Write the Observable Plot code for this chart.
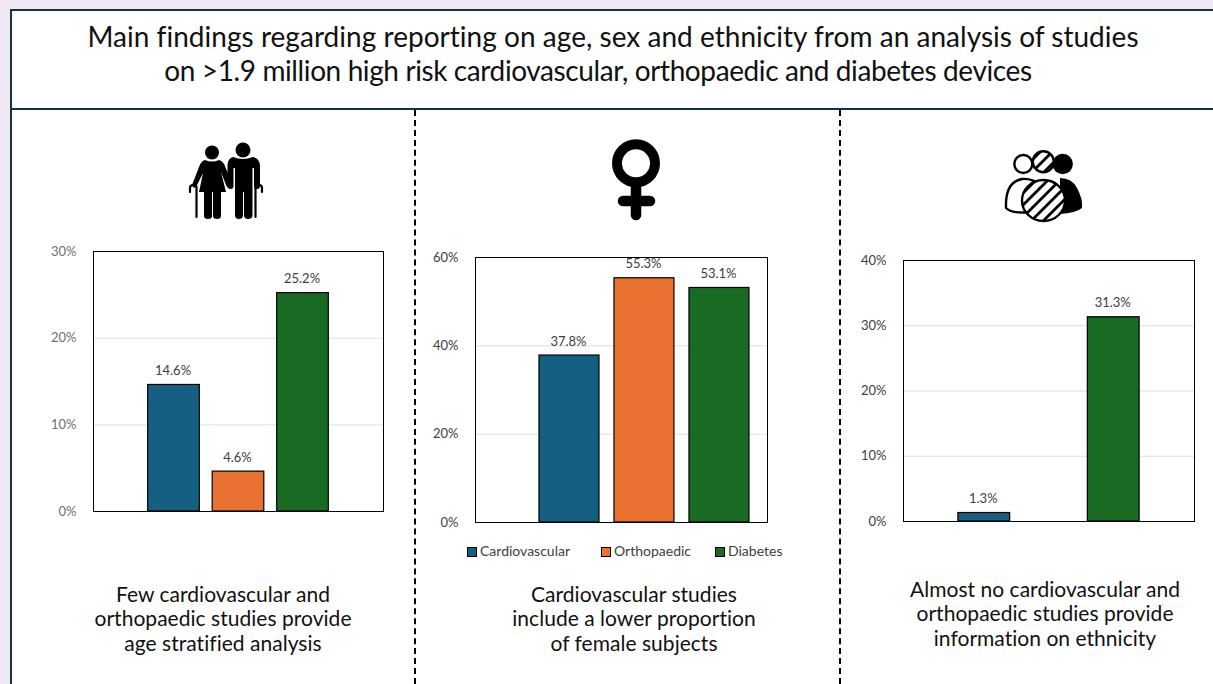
<!DOCTYPE html>
<html lang="en">
<head>
<meta charset="utf-8">
<title>Reporting on age, sex and ethnicity</title>
<script src="https://cdn.jsdelivr.net/npm/d3@7"></script>
<script src="https://cdn.jsdelivr.net/npm/@observablehq/plot@0.6"></script>
<style>
  html, body { margin: 0; padding: 0; background: #efe7f3; }
  body { position: relative; width: 1213px; height: 684px; overflow: hidden; font-family: Lato, "Open Sans", sans-serif; color: #111; }
  .sheet { position: absolute; left: 9.5px; top: 9px; width: 1210px; height: 690px; background: #fff; border-left: 2px solid #0e3446; border-top: 2px solid #0e3446; box-sizing: border-box; }
  .rule { position: absolute; left: 10px; top: 108px; width: 1203px; height: 2px; background: #0e3446; }
  .title { position: absolute; width: 1200px; text-align: center; font-size: 28px; line-height: 33.5px; white-space: nowrap; }
  .divider { position: absolute; top: 110px; height: 574px; width: 0; border-left: 2px dashed #000; }
  .caption { position: absolute; width: 400px; text-align: center; font-size: 21px; line-height: 24.3px; letter-spacing: 0.03px; white-space: nowrap; }
  .chart { position: absolute; }
  .chart svg { display: block; background: transparent; overflow: visible; }
  .icon { position: absolute; left: 0; top: 0; }
  .legend { position: absolute; top: 542px; left: 0; font-size: 14px; color: #404040; }
  .legend span { position: absolute; top: 0; white-space: nowrap; }
  .legend i { position: absolute; top: 5px; width: 8px; height: 8px; border: 1px solid #000; }
</style>
</head>
<body>
<div class="sheet"></div>
<div class="rule"></div>
<div class="title" style="left:13px;top:20px;letter-spacing:0.03px">Main findings regarding reporting on age, sex and ethnicity from an analysis of studies</div>
<div class="title" style="left:-2px;top:53.5px;letter-spacing:-0.39px">on &gt;1.9 million high risk cardiovascular, orthopaedic and diabetes devices</div>
<div class="divider" style="left:414px"></div>
<div class="divider" style="left:839px"></div>

<svg class="icon" width="1213" height="684" viewBox="0 0 1213 684">
  <defs>
    <pattern id="hatch" patternUnits="userSpaceOnUse" width="8.5" height="8.5" patternTransform="rotate(-45 0 0)">
      <rect width="8.5" height="8.5" fill="#fff"/>
      <rect width="8.5" height="2.8" fill="#000"/>
    </pattern>
  </defs>
  <!-- Elderly couple with walking canes -->
  <g fill="#000" stroke="none">
    <circle cx="212" cy="152.5" r="7"/>
    <path d="M205 160 Q212 163 219 160 Q223 161 225 166 L232 184 Q233 188 230 188 Q227 188 226 185 L221 172 L226 192 L221 192 L221 216 Q221 219 217 219 Q213 219 213 216 L213 192 L212 192 L212 216 Q212 219 208 219 Q204 219 204 216 L204 192 L199 192 L203 173 L196 187 Q193 189 192 185 L199 167 Q201 161 205 160 Z"/>
    <circle cx="243" cy="150" r="7.5"/>
    <path d="M233 157 Q243 161 253 157 Q259 158 260 165 L260 186 Q260 189 257 189 Q254 189 254 186 L254 168 L252.5 168 L252.5 215 Q252.5 219 248 219 Q244 219 244 215 L244 192 L243 192 L243 215 Q243 219 239 219 Q235 219 235 215 L235 168 L233.5 168 L233.5 186 Q233.5 189 230.5 189 Q227.5 189 227.5 186 L227.5 165 Q228 158 233 157 Z"/>
  </g>
  <g fill="none" stroke="#000" stroke-linecap="round">
    <path d="M196.5 217 L196.5 187 Q196.5 185 193 185 Q190 185 190 188 L190 192" stroke-width="2.2"/>
    <path d="M255.5 217 L255.5 187 Q255.5 185 259 185 Q262 185 262 188 L262 192" stroke-width="2.2"/>
  </g>
  <!-- Female symbol -->
  <g fill="none" stroke="#000" stroke-linecap="round">
    <circle cx="636" cy="163.3" r="19" stroke-width="10"/>
    <path d="M636 187 L636 215" stroke-width="10.5"/>
    <path d="M623 201 L650 201" stroke-width="10.5"/>
  </g>
  <!-- Group of three people, one outlined, one hatched, one solid -->
  <circle cx="1023.3" cy="164" r="9" fill="#fff" stroke="#000" stroke-width="2.4"/>
  <circle cx="1062.7" cy="164" r="10.2" fill="#000"/>
  <circle cx="1043.3" cy="161.7" r="10.5" fill="url(#hatch)" stroke="#000" stroke-width="2.4"/>
  <path d="M1006 208 Q1005 182 1022 179 Q1032 178 1040 185 L1030 212 Q1012 214 1006 208 Z" fill="#fff" stroke="#000" stroke-width="2.4" stroke-linejoin="round"/>
  <path d="M1060 178 Q1072 178 1077 188 Q1083 199 1082 208 Q1076 213 1060 214 Z" fill="#000"/>
  <ellipse cx="1043.5" cy="200.5" rx="21.5" ry="20.5" fill="url(#hatch)" stroke="#000" stroke-width="2.4"/>
</svg>

<div class="caption" style="left:23px;top:582px">Few cardiovascular and<br>orthopaedic studies provide<br>age stratified analysis</div>
<div class="caption" style="left:434px;top:582px">Cardiovascular studies<br>include a lower proportion<br>of female subjects</div>
<div class="caption" style="left:845px;top:577px">Almost no cardiovascular and<br>orthopaedic studies provide<br>information on ethnicity</div>

<div class="legend" id="legend"></div>
<div class="chart" id="age"></div>
<div class="chart" id="sex"></div>
<div class="chart" id="ethnicity"></div>

<script>
// Device groups and their colours
const categories = ["Cardiovascular", "Orthopaedic", "Diabetes"];
const colors = ["#156082", "#e97132", "#196b24"];

// Percentage of studies or subjects in each panel
const ageCategories = ["Cardiovascular", "Orthopaedic", "Diabetes"];
const ageValues = [14.6, 4.6, 25.2];
const ageTicks = [0, 10, 20, 30];

const sexCategories = ["Cardiovascular", "Orthopaedic", "Diabetes"];
const sexValues = [37.8, 55.3, 53.1];
const sexTicks = [0, 20, 40, 60];

const ethnicityCategories = ["Cardiovascular", "Diabetes"];
const ethnicityValues = [1.3, 31.3];
const ethnicityTicks = [0, 10, 20, 30, 40];

function barPanel({id, left, top, plotLeft, plotTop, plotWidth, plotHeight, names, values, ticks, outer, align, tickColor}) {
  const rows = names.map((name, i) => ({name, value: values[i]}));
  const marginLeft = plotLeft - left;
  const marginTop = plotTop - top;
  const marginRight = 6;
  const marginBottom = 12;
  const chart = Plot.plot({
    width: marginLeft + plotWidth + marginRight,
    height: marginTop + plotHeight + marginBottom,
    marginLeft, marginTop, marginRight, marginBottom,
    style: {background: "transparent", fontFamily: "Lato, 'Open Sans', sans-serif", fontSize: "13px"},
    x: {domain: categories, paddingInner: 0.2, paddingOuter: outer, align, round: false, axis: null},
    y: {domain: [ticks[0], ticks[ticks.length - 1]], label: null},
    color: {domain: categories, range: colors},
    marks: [
      Plot.gridY(ticks, {stroke: "#dedede", strokeOpacity: 1, strokeWidth: 1}),
      Plot.barY(rows, {x: "name", y: "value", fill: "name", stroke: "#000", strokeWidth: 1.2}),
      Plot.frame({stroke: "#000", strokeWidth: 1}),
      Plot.axisY(ticks, {
        tickSize: 0, tickPadding: 17, label: null,
        tickFormat: d => d + "%", color: tickColor, fontSize: 13
      }),
      Plot.text(rows, {
        x: "name", y: "value", text: d => d3.format(".1f")(d.value) + "%",
        dy: -14, dx: -1, fill: "#404040", fontSize: 13
      })
    ]
  });
  const host = document.getElementById(id);
  host.style.left = left + "px";
  host.style.top = top + "px";
  host.appendChild(chart);
}

barPanel({id: "age", left: 30, top: 240, plotLeft: 93, plotTop: 251, plotWidth: 290, plotHeight: 260,
  names: ageCategories, values: ageValues, ticks: ageTicks, outer: 0.848, align: 0.5, tickColor: "#6f6f6f"});
barPanel({id: "sex", left: 420, top: 246, plotLeft: 475, plotTop: 257, plotWidth: 292, plotHeight: 265,
  names: sexCategories, values: sexValues, ticks: sexTicks, outer: 0.547, align: 0.78, tickColor: "#404040"});
barPanel({id: "ethnicity", left: 850, top: 249, plotLeft: 903, plotTop: 260, plotWidth: 291, plotHeight: 261,
  names: ethnicityCategories, values: ethnicityValues, ticks: ethnicityTicks, outer: 0.848, align: 0.5, tickColor: "#404040"});

// Shared colour key under the middle panel
const legendSwatchX = [467, 601, 715];
const legend = document.getElementById("legend");
categories.forEach((name, i) => {
  const swatch = document.createElement("i");
  swatch.style.left = legendSwatchX[i] + "px";
  swatch.style.background = colors[i];
  legend.appendChild(swatch);
  const label = document.createElement("span");
  label.style.left = (legendSwatchX[i] + 13) + "px";
  label.textContent = name;
  legend.appendChild(label);
});
</script>
</body>
</html>
